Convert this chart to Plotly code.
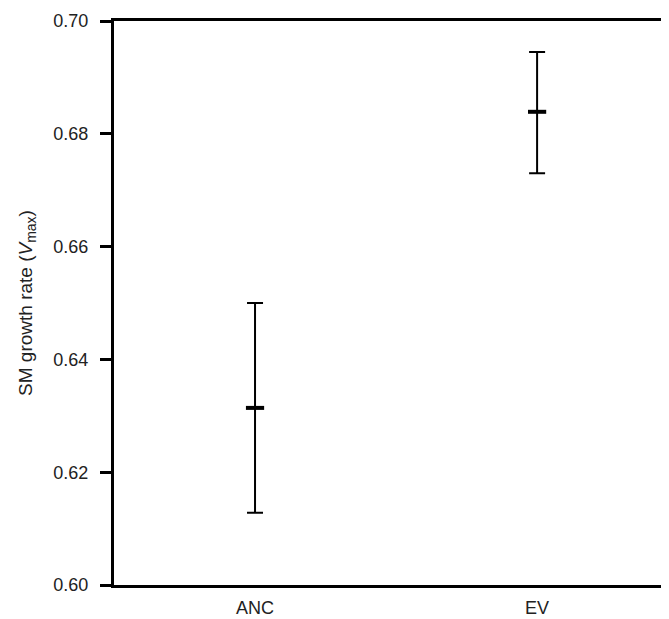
import plotly.graph_objects as go

categories = ["ANC", "EV"]
means = [0.6314, 0.6839]
upper = [0.6500, 0.6945]
lower = [0.6128, 0.6730]
y_ticks = [0.60, 0.62, 0.64, 0.66, 0.68, 0.70]

err_plus = [u - m for u, m in zip(upper, means)]
err_minus = [m - l for m, l in zip(means, lower)]

FONT = "Arial, Liberation Sans, sans-serif"

fig = go.Figure()
fig.add_trace(go.Scatter(
    x=categories,
    y=means,
    mode="markers",
    marker=dict(symbol="line-ew", size=13, color="black",
                line=dict(color="black", width=4)),
    error_y=dict(type="data", symmetric=False, array=err_plus,
                 arrayminus=err_minus, color="black", thickness=2, width=8),
    showlegend=False,
))

# page body has an 8px default margin, so the figure is offset by 8px;
# the frame runs past the right edge of the window, as in the reference
fig.update_layout(
    width=669, height=611,
    margin=dict(l=106, r=0, t=13, b=34),
    plot_bgcolor="white", paper_bgcolor="white",
    font=dict(family=FONT, size=18, color="#222"),
    xaxis=dict(
        type="category",
        range=[-0.5, 1.496],
        showline=True, linecolor="black", linewidth=3, mirror=True,
        ticks="", showgrid=False, zeroline=False,
        tickfont=dict(family=FONT, size=18, color="#222"),
        ticklabelstandoff=4,
    ),
    yaxis=dict(
        range=[0.60, 0.70],
        tickvals=y_ticks,
        ticktext=[f"{v:.2f}" for v in y_ticks],
        showline=True, linecolor="black", linewidth=3,
        ticks="outside", ticklen=11, tickwidth=3, tickcolor="black",
        showgrid=False, zeroline=False,
        tickfont=dict(family=FONT, size=18, color="#222"),
        ticklabelstandoff=8,
        title=dict(text="SM growth rate (<i>V</i><sub><span style=\"font-size:14px\">max</span></sub>)",
                   font=dict(family=FONT, size=19, color="#222"),
                   standoff=16),
    ),
)

fig.write_html("out.html")
